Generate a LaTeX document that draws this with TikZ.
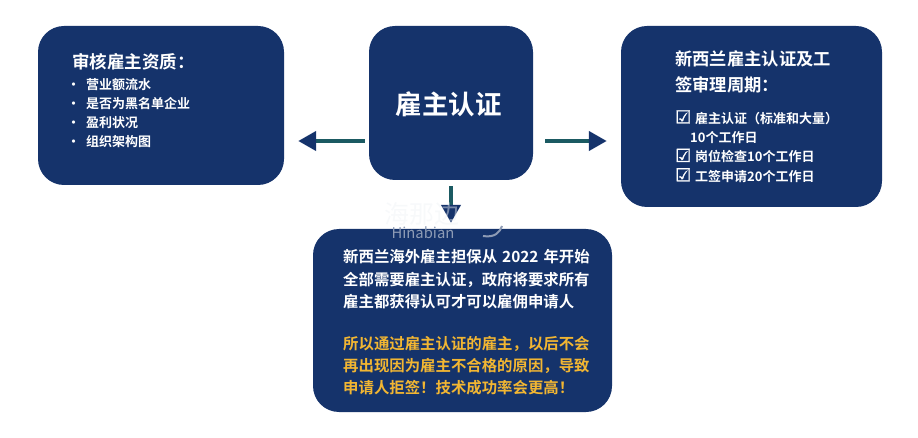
\documentclass[tikz,border=0pt]{standalone}
\usepackage{fontspec}
\usepackage{xcolor}
\usetikzlibrary{arrows.meta}
\setmainfont{Noto Sans CJK SC}[BoldFont={* Bold}]
\newfontfamily\checkfont{DejaVu Sans}[FakeBold=1.5]
\definecolor{boxblue}{HTML}{15336B}
\definecolor{arrowteal}{HTML}{1B5A62}
\definecolor{noteyellow}{HTML}{F2B632}
\definecolor{markgrey}{HTML}{8D9BB5}
\definecolor{markpale}{HTML}{EEF1F5}
\newcommand{\chk}{\makebox[15pt][l]{\smash{\checkfont\fontsize{18}{18}\selectfont ☑}}}
\begin{document}
\begin{tikzpicture}
[x=1pt,y=-1pt,
  boxdecorate/.style={shape=rectangle,rounded corners=26pt,fill=boxblue,inner sep=0pt},%
  textdecorate/.style={inner sep=0pt,text=white,font=\bfseries,align=left,anchor=north west},%
  linedecorate/.style={-{Triangle[width=19pt,length=18pt,fill=boxblue,color=boxblue]},line width=4.2pt,draw=arrowteal}]
\useasboundingbox (0,0) rectangle (918,438);
%% boxes
\foreach \nodename/\x/\y/\w/\h in {qualify/161/105.5/246/159, certify/451/103/164/154, period/751.5/116.5/261/181, notice/462.5/320.5/299/183} {
  \node (\nodename) at (\x,\y) [boxdecorate,minimum width=\w pt,minimum height=\h pt] {};
}
%% arrows
\coordinate (arrowrow) at (0,141);
\draw[linedecorate,shorten <=4pt,shorten >=14pt] (certify.west |- arrowrow) -- (qualify.east |- arrowrow);
\draw[linedecorate,shorten <=12pt,shorten >=14pt] (certify.east |- arrowrow) -- (period.west |- arrowrow);
\draw[linedecorate,shorten <=6pt,shorten >=6pt] (certify.south) -- (certify.south |- notice.north);
%% watermark
\node (markzh) at (422,214) [text=markpale,opacity=.45,font=\fontsize{25}{25}\selectfont] {海那边};
\node (markla) at (423,233) [text=markgrey,font=\fontsize{14.8}{15}\selectfont] {Hinabian};
\draw[markgrey,line width=2pt] (483,236) .. controls (495,238) and (500,232) .. (502,226);
%% texts
\node (certifytext) at (448.5,104) [text=white,font=\bfseries\fontsize{26.5}{27}\selectfont] {雇主认证};
\node (qualifytitle) at (72,53) [textdecorate,font=\bfseries\fontsize{17.5}{20}\selectfont] {审核雇主资质^^^^ff1a};
\node (qualifyitems) at (67,78) [textdecorate,font=\bfseries\fontsize{13}{19}\selectfont] {%
  •\hspace{6pt}营业额流水\\ •\hspace{6pt}是否为黑名单企业\\ •\hspace{6pt}盈利状况\\ •\hspace{6pt}组织架构图};
\node (periodtitle) at (675,50) [textdecorate,font=\bfseries\fontsize{17.3}{26}\selectfont] {新西兰雇主认证及工\\签审理周期^^^^ff1a};
\node (perioditems) at (675,112) [textdecorate,font=\bfseries\fontsize{13}{19.3}\selectfont] {%
  \chk\hspace{5pt}雇主认证^^^^ff08标准和大量^^^^ff09\\
  \hspace{15pt}10个工作日\\
  \chk\hspace{5pt}岗位检查10个工作日\\
  \chk\hspace{5pt}工签申请20个工作日};
\node (noticewhite) at (343,249) [textdecorate,font=\bfseries\fontsize{15.4}{22.6}\selectfont] {%
  新西兰海外雇主担保从\hspace{5pt}2022\hspace{5pt}年开始\\全部需要雇主认证^^^^ff0c政府将要求所有\\雇主都获得认可才可以雇佣申请人};
\node (noticeyellow) at (343,336) [textdecorate,text=noteyellow,font=\bfseries\fontsize{15.4}{22}\selectfont] {%
  所以通过雇主认证的雇主^^^^ff0c以后不会\\再出现因为雇主不合格的原因^^^^ff0c导致\\申请人拒签^^^^ff01技术成功率会更高^^^^ff01};
\end{tikzpicture}
\end{document}
